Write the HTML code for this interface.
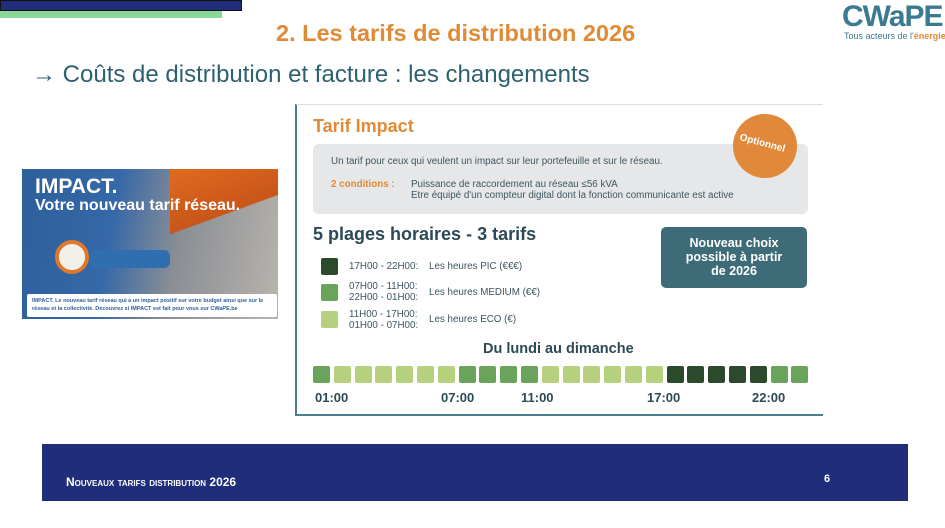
<!DOCTYPE html>
<html><head><meta charset="utf-8"><style>
*{margin:0;padding:0;box-sizing:border-box}
body{width:945px;height:528px;background:#fff;position:relative;overflow:hidden;font-family:"Liberation Sans",sans-serif}
.a{position:absolute;white-space:nowrap}
.sq{position:absolute;top:366px;width:17px;height:17px;border-radius:2px}
.m{background:#6aa35a}.e{background:#b5d17e}.p{background:#2b4a2b}
.t{font-weight:bold;color:#2c4a55;font-size:13px;top:390px}
.lg{font-size:9.8px;color:#3c5560;line-height:11px}
</style></head><body>
<div class="a" style="left:0;top:0;width:242px;height:11px;background:#202d7a;border:1px solid #111"></div>
<div class="a" style="left:0;top:11px;width:222px;height:7px;background:#8ad79a"></div>
<div class="a" style="left:276px;top:20px;font-size:23.5px;font-weight:bold;color:#e08a35">2. Les tarifs de distribution 2026</div>
<div class="a" style="left:842px;top:0px;font-size:30px;font-weight:bold;color:#3b7a90;letter-spacing:-1px">CWaPE</div>
<div class="a" style="left:844px;top:31px;font-size:9px;color:#3b7a90">Tous acteurs de l'<span style="color:#e08a35;font-weight:bold">énergie</span></div>
<div class="a" style="left:32px;top:61px;font-size:24px;color:#2d6170">→ Coûts de distribution et facture : les changements</div>

<div class="a" style="left:22px;top:169px;width:256px;height:150px;background:linear-gradient(100deg,#2d5f9a 0%,#3568a8 35%,#8a8e95 60%,#b9b4ad 100%)"></div>
<div class="a" style="left:170px;top:169px;width:108px;height:90px;background:linear-gradient(160deg,#e06a20,#c8561a 50%,transparent 51%)"></div>
<div class="a" style="left:55px;top:240px;width:34px;height:34px;border-radius:50%;background:#f2f0ea;border:4px solid #e07a2a"></div>
<div class="a" style="left:90px;top:250px;width:80px;height:18px;background:#2f6fb0;border-radius:6px"></div>
<div class="a" style="left:35px;top:175px;font-size:21px;font-weight:bold;color:#fff">IMPACT.</div>
<div class="a" style="left:35px;top:197px;font-size:16px;font-weight:bold;color:#fff">Votre nouveau tarif réseau.</div>
<div class="a" style="left:27px;top:294px;width:250px;height:23px;background:#fff;border-radius:2px;font-size:5.5px;color:#2f5f9a;font-weight:bold;padding:3px 5px;line-height:8px;white-space:normal">IMPACT. Le nouveau tarif réseau qui a un impact positif sur votre budget ainsi que sur le réseau et la collectivité. Découvrez si IMPACT est fait pour vous sur CWaPE.be</div>

<div class="a" style="left:295px;top:104px;width:528px;height:312px;border-left:2px solid #4a7d90;border-bottom:2px solid #4a7d90;border-top:1px solid #ddd"></div>
<div class="a" style="left:313px;top:116px;font-size:18px;font-weight:bold;color:#e08a35">Tarif Impact</div>
<div class="a" style="left:313px;top:144px;width:495px;height:70px;background:#e6e7e8;border-radius:6px"></div>
<div class="a" style="left:331px;top:156px;font-size:9.8px;color:#3c5560">Un tarif pour ceux qui veulent un impact sur leur portefeuille et sur le réseau.</div>
<div class="a" style="left:331px;top:179px;font-size:9.8px;color:#e08a35;font-weight:bold">2 conditions :</div>
<div class="a lg" style="left:411px;top:179px">Puissance de raccordement au réseau ≤56 kVA<br>Etre équipé d'un compteur digital dont la fonction communicante est active</div>
<div class="a" style="left:733px;top:114px;width:64px;height:64px;border-radius:50%;background:#e0893a"></div>
<div class="a" style="left:739px;top:138px;font-size:10px;font-weight:bold;color:#fff;transform:rotate(15deg)">Optionnel</div>
<div class="a" style="left:313px;top:224px;font-size:18px;font-weight:bold;color:#2c4a55">5 plages horaires - 3 tarifs</div>
<div class="a" style="left:661px;top:227px;width:146px;height:61px;background:#3e6b78;border-radius:5px;color:#fff;font-weight:bold;font-size:12.5px;text-align:center;line-height:14px;padding-top:9px">Nouveau choix<br>possible à partir<br>de 2026</div>
<div class="a p" style="left:321px;top:258px;width:17px;height:17px;border-radius:2px"></div>
<div class="a m" style="left:321px;top:284px;width:17px;height:17px;border-radius:2px"></div>
<div class="a e" style="left:321px;top:311px;width:17px;height:17px;border-radius:2px"></div>
<div class="a lg" style="left:349px;top:261px">17H00 - 22H00:</div>
<div class="a lg" style="left:429px;top:261px">Les heures PIC (€€€)</div>
<div class="a lg" style="left:349px;top:281px">07H00 - 11H00:<br>22H00 - 01H00:</div>
<div class="a lg" style="left:429px;top:287px">Les heures MEDIUM (€€)</div>
<div class="a lg" style="left:349px;top:309px">11H00 - 17H00:<br>01H00 - 07H00:</div>
<div class="a lg" style="left:429px;top:314px">Les heures ECO (€)</div>
<div class="a" style="left:483px;top:341px;font-size:14.5px;font-weight:bold;color:#2c4a55">Du lundi au dimanche</div>
<div class="sq m" style="left:313px"></div><div class="sq e" style="left:333.8px"></div><div class="sq e" style="left:354.6px"></div><div class="sq e" style="left:375.4px"></div><div class="sq e" style="left:396.2px"></div><div class="sq e" style="left:417px"></div><div class="sq e" style="left:437.8px"></div><div class="sq m" style="left:458.6px"></div><div class="sq m" style="left:479.4px"></div><div class="sq m" style="left:500.2px"></div><div class="sq m" style="left:521px"></div><div class="sq e" style="left:541.8px"></div><div class="sq e" style="left:562.6px"></div><div class="sq e" style="left:583.4px"></div><div class="sq e" style="left:604.2px"></div><div class="sq e" style="left:625px"></div><div class="sq e" style="left:645.8px"></div><div class="sq p" style="left:666.6px"></div><div class="sq p" style="left:687.4px"></div><div class="sq p" style="left:708.2px"></div><div class="sq p" style="left:729px"></div><div class="sq p" style="left:749.8px"></div><div class="sq m" style="left:770.6px"></div><div class="sq m" style="left:791.4px"></div>
<div class="a t" style="left:315px">01:00</div>
<div class="a t" style="left:441px">07:00</div>
<div class="a t" style="left:521px">11:00</div>
<div class="a t" style="left:647px">17:00</div>
<div class="a t" style="left:752px">22:00</div>

<div class="a" style="left:42px;top:444px;width:866px;height:57px;background:#202d7a"></div>
<div class="a" style="left:66px;top:475px;font-size:12px;font-weight:bold;color:#fff;font-variant:small-caps">Nouveaux tarifs distribution 2026</div>
<div class="a" style="left:824px;top:473px;font-size:11px;font-weight:bold;color:#fff">6</div>
</body></html>
